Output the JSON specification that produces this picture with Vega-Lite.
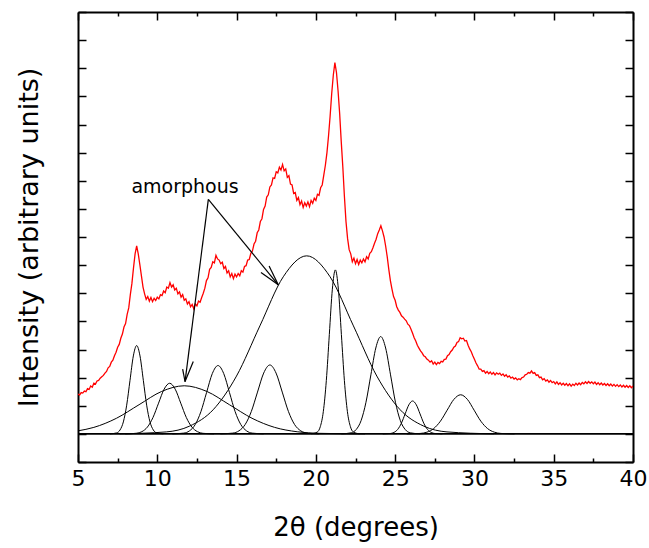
{
  "$schema": "https://vega.github.io/schema/vega-lite/v6.json",
  "width": 555,
  "height": 450,
  "autosize": {"type": "none"},
  "padding": {"left": 78, "top": 12, "right": 16, "bottom": 86},
  "background": "white",
  "config": {
    "view": {"stroke": null},
    "axis": {"grid": false, "domainColor": "black", "domainWidth": 2, "tickColor": "black", "tickWidth": 1.5, "labelColor": "black", "titleColor": "black", "labelFont": "DejaVu Sans", "titleFont": "DejaVu Sans", "titleFontWeight": "normal"}
  },
  "datasets": {
    "xrd": [
      {"x":5.0,"y":1.42},{"x":5.1,"y":1.38},{"x":5.2,"y":1.47},{"x":5.3,"y":1.45},{"x":5.4,"y":1.52},{"x":5.5,"y":1.50},{"x":5.6,"y":1.61},{"x":5.7,"y":1.58},{"x":5.8,"y":1.70},{"x":5.9,"y":1.66},
      {"x":6.0,"y":1.80},{"x":6.1,"y":1.77},{"x":6.2,"y":1.88},{"x":6.3,"y":1.90},{"x":6.4,"y":1.98},{"x":6.5,"y":2.03},{"x":6.6,"y":2.08},{"x":6.7,"y":2.16},{"x":6.8,"y":2.22},{"x":6.9,"y":2.35},
      {"x":7.0,"y":2.40},{"x":7.1,"y":2.55},{"x":7.2,"y":2.62},{"x":7.3,"y":2.78},{"x":7.4,"y":2.90},{"x":7.5,"y":3.08},{"x":7.6,"y":3.18},{"x":7.7,"y":3.40},{"x":7.8,"y":3.55},{"x":7.9,"y":3.80},
      {"x":8.0,"y":3.92},{"x":8.1,"y":4.25},{"x":8.2,"y":4.48},{"x":8.3,"y":4.95},{"x":8.4,"y":5.35},{"x":8.5,"y":5.90},{"x":8.6,"y":6.40},{"x":8.7,"y":6.68},{"x":8.8,"y":6.40},{"x":8.9,"y":6.02},
      {"x":9.0,"y":5.62},{"x":9.1,"y":5.22},{"x":9.2,"y":4.98},{"x":9.3,"y":4.78},{"x":9.4,"y":4.88},{"x":9.5,"y":4.72},{"x":9.6,"y":4.85},{"x":9.7,"y":4.70},{"x":9.8,"y":4.82},{"x":9.9,"y":4.74},
      {"x":10.0,"y":4.86},{"x":10.1,"y":4.80},{"x":10.2,"y":4.95},{"x":10.3,"y":4.92},{"x":10.4,"y":5.08},{"x":10.5,"y":5.02},{"x":10.6,"y":5.22},{"x":10.7,"y":5.18},{"x":10.8,"y":5.38},{"x":10.9,"y":5.22},
      {"x":11.0,"y":5.30},{"x":11.1,"y":5.12},{"x":11.2,"y":5.18},{"x":11.3,"y":4.98},{"x":11.4,"y":5.05},{"x":11.5,"y":4.86},{"x":11.6,"y":4.95},{"x":11.7,"y":4.75},{"x":11.8,"y":4.80},{"x":11.9,"y":4.62},
      {"x":12.0,"y":4.70},{"x":12.1,"y":4.52},{"x":12.2,"y":4.60},{"x":12.3,"y":4.45},{"x":12.4,"y":4.62},{"x":12.5,"y":4.55},{"x":12.6,"y":4.72},{"x":12.7,"y":4.68},{"x":12.8,"y":4.85},{"x":12.9,"y":5.00},
      {"x":13.0,"y":5.18},{"x":13.1,"y":5.45},{"x":13.2,"y":5.55},{"x":13.3,"y":5.85},{"x":13.4,"y":5.92},{"x":13.5,"y":6.12},{"x":13.6,"y":6.08},{"x":13.7,"y":6.35},{"x":13.8,"y":6.22},{"x":13.9,"y":6.18},
      {"x":14.0,"y":6.05},{"x":14.1,"y":6.10},{"x":14.2,"y":5.88},{"x":14.3,"y":5.95},{"x":14.4,"y":5.72},{"x":14.5,"y":5.80},{"x":14.6,"y":5.58},{"x":14.7,"y":5.70},{"x":14.8,"y":5.52},{"x":14.9,"y":5.68},
      {"x":15.0,"y":5.58},{"x":15.1,"y":5.70},{"x":15.2,"y":5.62},{"x":15.3,"y":5.80},{"x":15.4,"y":5.75},{"x":15.5,"y":5.95},{"x":15.6,"y":5.98},{"x":15.7,"y":6.18},{"x":15.8,"y":6.20},{"x":15.9,"y":6.42},
      {"x":16.0,"y":6.50},{"x":16.1,"y":6.75},{"x":16.2,"y":6.85},{"x":16.3,"y":7.15},{"x":16.4,"y":7.25},{"x":16.5,"y":7.55},{"x":16.6,"y":7.65},{"x":16.7,"y":7.98},{"x":16.8,"y":8.10},{"x":16.9,"y":8.42},
      {"x":17.0,"y":8.50},{"x":17.1,"y":8.78},{"x":17.2,"y":8.85},{"x":17.3,"y":9.10},{"x":17.4,"y":9.08},{"x":17.5,"y":9.32},{"x":17.6,"y":9.28},{"x":17.7,"y":9.48},{"x":17.8,"y":9.38},{"x":17.9,"y":9.58},
      {"x":18.0,"y":9.35},{"x":18.1,"y":9.42},{"x":18.2,"y":9.12},{"x":18.3,"y":9.18},{"x":18.4,"y":8.88},{"x":18.5,"y":8.85},{"x":18.6,"y":8.55},{"x":18.7,"y":8.58},{"x":18.8,"y":8.30},{"x":18.9,"y":8.40},
      {"x":19.0,"y":8.15},{"x":19.1,"y":8.28},{"x":19.2,"y":8.05},{"x":19.3,"y":8.22},{"x":19.4,"y":8.10},{"x":19.5,"y":8.25},{"x":19.6,"y":8.08},{"x":19.7,"y":8.30},{"x":19.8,"y":8.20},{"x":19.9,"y":8.38},
      {"x":20.0,"y":8.30},{"x":20.1,"y":8.52},{"x":20.2,"y":8.48},{"x":20.3,"y":8.75},{"x":20.4,"y":8.85},{"x":20.5,"y":9.20},{"x":20.6,"y":9.55},{"x":20.7,"y":10.00},{"x":20.8,"y":10.60},{"x":20.9,"y":11.30},
      {"x":21.0,"y":12.10},{"x":21.1,"y":12.75},{"x":21.2,"y":13.20},{"x":21.3,"y":12.85},{"x":21.4,"y":12.20},{"x":21.5,"y":11.40},{"x":21.6,"y":10.40},{"x":21.7,"y":9.50},{"x":21.8,"y":8.45},{"x":21.9,"y":7.55},
      {"x":22.0,"y":6.95},{"x":22.1,"y":6.55},{"x":22.2,"y":6.40},{"x":22.3,"y":6.12},{"x":22.4,"y":6.25},{"x":22.5,"y":6.05},{"x":22.6,"y":6.20},{"x":22.7,"y":6.02},{"x":22.8,"y":6.18},{"x":22.9,"y":6.08},
      {"x":23.0,"y":6.22},{"x":23.1,"y":6.12},{"x":23.2,"y":6.30},{"x":23.3,"y":6.22},{"x":23.4,"y":6.42},{"x":23.5,"y":6.48},{"x":23.6,"y":6.62},{"x":23.7,"y":6.78},{"x":23.8,"y":6.92},{"x":23.9,"y":7.12},
      {"x":24.0,"y":7.25},{"x":24.1,"y":7.40},{"x":24.2,"y":7.22},{"x":24.3,"y":7.00},{"x":24.4,"y":6.68},{"x":24.5,"y":6.30},{"x":24.6,"y":5.85},{"x":24.7,"y":5.45},{"x":24.8,"y":5.15},{"x":24.9,"y":4.88},
      {"x":25.0,"y":4.75},{"x":25.1,"y":4.52},{"x":25.2,"y":4.40},{"x":25.3,"y":4.32},{"x":25.4,"y":4.20},{"x":25.5,"y":4.15},{"x":25.6,"y":4.08},{"x":25.7,"y":4.02},{"x":25.8,"y":3.90},{"x":25.9,"y":3.85},
      {"x":26.0,"y":3.72},{"x":26.1,"y":3.58},{"x":26.2,"y":3.42},{"x":26.3,"y":3.30},{"x":26.4,"y":3.15},{"x":26.5,"y":3.05},{"x":26.6,"y":2.95},{"x":26.7,"y":2.88},{"x":26.8,"y":2.78},{"x":26.9,"y":2.74},
      {"x":27.0,"y":2.66},{"x":27.1,"y":2.62},{"x":27.2,"y":2.55},{"x":27.3,"y":2.60},{"x":27.4,"y":2.48},{"x":27.5,"y":2.55},{"x":27.6,"y":2.46},{"x":27.7,"y":2.54},{"x":27.8,"y":2.50},{"x":27.9,"y":2.58},
      {"x":28.0,"y":2.56},{"x":28.1,"y":2.65},{"x":28.2,"y":2.66},{"x":28.3,"y":2.78},{"x":28.4,"y":2.82},{"x":28.5,"y":2.92},{"x":28.6,"y":2.98},{"x":28.7,"y":3.08},{"x":28.8,"y":3.12},{"x":28.9,"y":3.25},
      {"x":29.0,"y":3.28},{"x":29.1,"y":3.42},{"x":29.2,"y":3.38},{"x":29.3,"y":3.40},{"x":29.4,"y":3.30},{"x":29.5,"y":3.32},{"x":29.6,"y":3.15},{"x":29.7,"y":3.02},{"x":29.8,"y":2.92},{"x":29.9,"y":2.78},
      {"x":30.0,"y":2.65},{"x":30.1,"y":2.52},{"x":30.2,"y":2.42},{"x":30.3,"y":2.30},{"x":30.4,"y":2.30},{"x":30.5,"y":2.22},{"x":30.6,"y":2.25},{"x":30.7,"y":2.16},{"x":30.8,"y":2.22},{"x":30.9,"y":2.14},
      {"x":31.0,"y":2.20},{"x":31.1,"y":2.12},{"x":31.2,"y":2.18},{"x":31.3,"y":2.10},{"x":31.4,"y":2.17},{"x":31.5,"y":2.12},{"x":31.6,"y":2.16},{"x":31.7,"y":2.08},{"x":31.8,"y":2.13},{"x":31.9,"y":2.05},
      {"x":32.0,"y":2.10},{"x":32.1,"y":2.02},{"x":32.2,"y":2.06},{"x":32.3,"y":1.98},{"x":32.4,"y":2.02},{"x":32.5,"y":1.95},{"x":32.6,"y":1.99},{"x":32.7,"y":1.92},{"x":32.8,"y":1.96},{"x":32.9,"y":1.93},
      {"x":33.0,"y":2.00},{"x":33.1,"y":2.02},{"x":33.2,"y":2.10},{"x":33.3,"y":2.12},{"x":33.4,"y":2.18},{"x":33.5,"y":2.16},{"x":33.6,"y":2.24},{"x":33.7,"y":2.15},{"x":33.8,"y":2.18},{"x":33.9,"y":2.08},
      {"x":34.0,"y":2.10},{"x":34.1,"y":2.00},{"x":34.2,"y":2.02},{"x":34.3,"y":1.92},{"x":34.4,"y":1.96},{"x":34.5,"y":1.88},{"x":34.6,"y":1.92},{"x":34.7,"y":1.84},{"x":34.8,"y":1.90},{"x":34.9,"y":1.82},
      {"x":35.0,"y":1.86},{"x":35.1,"y":1.78},{"x":35.2,"y":1.85},{"x":35.3,"y":1.76},{"x":35.4,"y":1.82},{"x":35.5,"y":1.74},{"x":35.6,"y":1.80},{"x":35.7,"y":1.73},{"x":35.8,"y":1.79},{"x":35.9,"y":1.71},
      {"x":36.0,"y":1.78},{"x":36.1,"y":1.70},{"x":36.2,"y":1.77},{"x":36.3,"y":1.72},{"x":36.4,"y":1.80},{"x":36.5,"y":1.74},{"x":36.6,"y":1.81},{"x":36.7,"y":1.75},{"x":36.8,"y":1.83},{"x":36.9,"y":1.78},
      {"x":37.0,"y":1.85},{"x":37.1,"y":1.79},{"x":37.2,"y":1.86},{"x":37.3,"y":1.80},{"x":37.4,"y":1.85},{"x":37.5,"y":1.78},{"x":37.6,"y":1.84},{"x":37.7,"y":1.76},{"x":37.8,"y":1.82},{"x":37.9,"y":1.75},
      {"x":38.0,"y":1.81},{"x":38.1,"y":1.74},{"x":38.2,"y":1.79},{"x":38.3,"y":1.72},{"x":38.4,"y":1.78},{"x":38.5,"y":1.71},{"x":38.6,"y":1.77},{"x":38.7,"y":1.70},{"x":38.8,"y":1.76},{"x":38.9,"y":1.69},
      {"x":39.0,"y":1.75},{"x":39.1,"y":1.68},{"x":39.2,"y":1.74},{"x":39.3,"y":1.67},{"x":39.4,"y":1.73},{"x":39.5,"y":1.66},{"x":39.6,"y":1.72},{"x":39.7,"y":1.65},{"x":39.8,"y":1.71},{"x":39.9,"y":1.64},
      {"x":40.0,"y":1.70}
    ],
    "peaks": [
      {"c":"A","x":7.02,"y":0.001},{"c":"A","x":7.44,"y":0.035},{"c":"A","x":7.65,"y":0.138},{"c":"A","x":7.86,"y":0.425},{"c":"A","x":8.07,"y":1.020},{"c":"A","x":8.28,"y":1.904},{"c":"A","x":8.49,"y":2.771},{"c":"A","x":8.70,"y":3.14},{"c":"A","x":8.91,"y":2.771},{"c":"A","x":9.12,"y":1.904},{"c":"A","x":9.33,"y":1.020},{"c":"A","x":9.54,"y":0.425},{"c":"A","x":9.75,"y":0.138},{"c":"A","x":9.96,"y":0.035},{"c":"A","x":10.38,"y":0.001},
      {"c":"B","x":7.98,"y":0.001},{"c":"B","x":8.68,"y":0.020},{"c":"B","x":9.03,"y":0.079},{"c":"B","x":9.38,"y":0.244},{"c":"B","x":9.73,"y":0.584},{"c":"B","x":10.08,"y":1.092},{"c":"B","x":10.43,"y":1.589},{"c":"B","x":10.78,"y":1.80},{"c":"B","x":11.13,"y":1.589},{"c":"B","x":11.48,"y":1.092},{"c":"B","x":11.83,"y":0.584},{"c":"B","x":12.18,"y":0.244},{"c":"B","x":12.53,"y":0.079},{"c":"B","x":12.88,"y":0.020},{"c":"B","x":13.58,"y":0.001},
      {"c":"C","x":10.95,"y":0.001},{"c":"C","x":11.67,"y":0.027},{"c":"C","x":12.03,"y":0.107},{"c":"C","x":12.39,"y":0.329},{"c":"C","x":12.75,"y":0.789},{"c":"C","x":13.11,"y":1.474},{"c":"C","x":13.47,"y":2.144},{"c":"C","x":13.83,"y":2.43},{"c":"C","x":14.19,"y":2.144},{"c":"C","x":14.55,"y":1.474},{"c":"C","x":14.91,"y":0.789},{"c":"C","x":15.27,"y":0.329},{"c":"C","x":15.63,"y":0.107},{"c":"C","x":15.99,"y":0.027},{"c":"C","x":16.71,"y":0.001},
      {"c":"D","x":13.98,"y":0.001},{"c":"D","x":14.76,"y":0.027},{"c":"D","x":15.15,"y":0.108},{"c":"D","x":15.54,"y":0.331},{"c":"D","x":15.93,"y":0.796},{"c":"D","x":16.32,"y":1.486},{"c":"D","x":16.71,"y":2.162},{"c":"D","x":17.10,"y":2.45},{"c":"D","x":17.49,"y":2.162},{"c":"D","x":17.88,"y":1.486},{"c":"D","x":18.27,"y":0.796},{"c":"D","x":18.66,"y":0.331},{"c":"D","x":19.05,"y":0.108},{"c":"D","x":19.44,"y":0.027},{"c":"D","x":20.22,"y":0.001},
      {"c":"E","x":7.62,"y":0.002},{"c":"E","x":10.57,"y":0.070},{"c":"E","x":12.045,"y":0.278},{"c":"E","x":13.52,"y":0.856},{"c":"E","x":14.995,"y":2.055},{"c":"E","x":16.47,"y":3.839},{"c":"E","x":17.945,"y":5.586},{"c":"E","x":19.42,"y":6.33},{"c":"E","x":20.895,"y":5.586},{"c":"E","x":22.37,"y":3.839},{"c":"E","x":23.845,"y":2.055},{"c":"E","x":25.32,"y":0.856},{"c":"E","x":26.795,"y":0.278},{"c":"E","x":28.27,"y":0.070},{"c":"E","x":31.22,"y":0.002},
      {"c":"F","x":19.71,"y":0.002},{"c":"F","x":20.09,"y":0.065},{"c":"F","x":20.28,"y":0.256},{"c":"F","x":20.47,"y":0.789},{"c":"F","x":20.66,"y":1.893},{"c":"F","x":20.85,"y":3.536},{"c":"F","x":21.04,"y":5.145},{"c":"F","x":21.23,"y":5.83},{"c":"F","x":21.42,"y":5.145},{"c":"F","x":21.61,"y":3.536},{"c":"F","x":21.80,"y":1.893},{"c":"F","x":21.99,"y":0.789},{"c":"F","x":22.18,"y":0.256},{"c":"F","x":22.37,"y":0.065},{"c":"F","x":22.75,"y":0.002},
      {"c":"G","x":21.61,"y":0.001},{"c":"G","x":22.23,"y":0.038},{"c":"G","x":22.54,"y":0.152},{"c":"G","x":22.85,"y":0.468},{"c":"G","x":23.16,"y":1.123},{"c":"G","x":23.47,"y":2.098},{"c":"G","x":23.78,"y":3.053},{"c":"G","x":24.09,"y":3.46},{"c":"G","x":24.40,"y":3.053},{"c":"G","x":24.71,"y":2.098},{"c":"G","x":25.02,"y":1.123},{"c":"G","x":25.33,"y":0.468},{"c":"G","x":25.64,"y":0.152},{"c":"G","x":25.95,"y":0.038},{"c":"G","x":26.57,"y":0.001},
      {"c":"H","x":24.22,"y":0.0},{"c":"H","x":24.69,"y":0.013},{"c":"H","x":24.925,"y":0.051},{"c":"H","x":25.16,"y":0.158},{"c":"H","x":25.395,"y":0.380},{"c":"H","x":25.63,"y":0.710},{"c":"H","x":25.865,"y":1.033},{"c":"H","x":26.10,"y":1.17},{"c":"H","x":26.335,"y":1.033},{"c":"H","x":26.57,"y":0.710},{"c":"H","x":26.805,"y":0.380},{"c":"H","x":27.04,"y":0.158},{"c":"H","x":27.275,"y":0.051},{"c":"H","x":27.51,"y":0.013},{"c":"H","x":27.98,"y":0.0},
      {"c":"I","x":25.73,"y":0.0},{"c":"I","x":26.58,"y":0.015},{"c":"I","x":27.005,"y":0.061},{"c":"I","x":27.43,"y":0.188},{"c":"I","x":27.855,"y":0.451},{"c":"I","x":28.28,"y":0.843},{"c":"I","x":28.705,"y":1.227},{"c":"I","x":29.13,"y":1.39},{"c":"I","x":29.555,"y":1.227},{"c":"I","x":29.98,"y":0.843},{"c":"I","x":30.405,"y":0.451},{"c":"I","x":30.83,"y":0.188},{"c":"I","x":31.255,"y":0.061},{"c":"I","x":31.68,"y":0.015},{"c":"I","x":32.53,"y":0.0},
      {"c":"J","x":5.0,"y":0.108},{"c":"J","x":6.0,"y":0.231},{"c":"J","x":7.425,"y":0.555},{"c":"J","x":8.85,"y":1.037},{"c":"J","x":10.275,"y":1.509},{"c":"J","x":11.70,"y":1.71},{"c":"J","x":13.125,"y":1.509},{"c":"J","x":14.55,"y":1.037},{"c":"J","x":15.975,"y":0.555},{"c":"J","x":17.40,"y":0.231},{"c":"J","x":18.825,"y":0.075},{"c":"J","x":20.25,"y":0.019},{"c":"J","x":23.10,"y":0.001}
    ],
    "baseline": [{"x":5,"x2":40,"y":0}],
    "arrows": [
      {"x":13.22,"y":8.34,"x2":11.75,"y2":1.86},
      {"x":13.22,"y":8.34,"x2":17.63,"y2":5.30},
      {"x":11.60,"y":2.30,"x2":11.75,"y2":1.86},
      {"x":12.27,"y":2.57,"x2":11.75,"y2":1.86},
      {"x":17.05,"y":5.97,"x2":17.63,"y2":5.30},
      {"x":16.54,"y":5.74,"x2":17.63,"y2":5.30}
    ],
    "labels": [{"x":11.75,"y":8.56,"text":"amorphous"}]
  },
  "resolve": {"axis": {"x": "independent", "y": "independent"}},
  "layer": [
    {
      "data": {"name": "xrd"},
      "mark": {"type": "line", "color": "#ff0000", "strokeWidth": 1.3, "clip": true},
      "encoding": {
        "x": {"field": "x", "type": "quantitative", "scale": {"domain": [5, 40], "nice": false, "zero": false},
          "axis": {"orient": "bottom", "values": [5,10,15,20,25,30,35,40], "tickSize": -8, "labelFontSize": 22, "labelPadding": 31, "labelBaseline": "alphabetic", "labelFlush": false, "labelOverlap": false,
            "title": "2θ (degrees)", "titleFontSize": 26, "titleX": 277.5, "titleY": 73, "titleBaseline": "alphabetic", "titleAlign": "center", "titleAnchor": null}},
        "y": {"field": "y", "type": "quantitative", "scale": {"domain": [-1, 15], "nice": false, "zero": false},
          "axis": {"orient": "left", "values": [-1,0,1,2,3,4,5,6,7,8,9,10,11,12,13,14,15], "tickSize": -8, "labels": false,
            "title": "Intensity (arbitrary units)", "titleFontSize": 27, "titleX": -41, "titleY": 225, "titleAngle": -90, "titleBaseline": "alphabetic", "titleAlign": "center", "titleAnchor": null}}
      }
    },
    {
      "data": {"name": "peaks"},
      "mark": {"type": "line", "color": "black", "strokeWidth": 1, "interpolate": "monotone", "clip": true},
      "encoding": {
        "detail": {"field": "c"},
        "x": {"field": "x", "type": "quantitative", "scale": {"domain": [5, 40], "nice": false, "zero": false},
          "axis": {"orient": "top", "values": [5,10,15,20,25,30,35,40], "tickSize": -8, "labels": false, "title": null}},
        "y": {"field": "y", "type": "quantitative", "scale": {"domain": [-1, 15], "nice": false, "zero": false},
          "axis": {"orient": "right", "values": [-1,0,1,2,3,4,5,6,7,8,9,10,11,12,13,14,15], "tickSize": -8, "labels": false, "title": null}}
      }
    },
    {
      "data": {"name": "baseline"},
      "mark": {"type": "rule", "color": "black", "strokeWidth": 1.6},
      "encoding": {
        "x": {"field": "x", "type": "quantitative", "scale": {"domain": [5, 40], "nice": false, "zero": false},
          "axis": {"orient": "bottom", "values": [7.5,12.5,17.5,22.5,27.5,32.5,37.5], "tickSize": -4, "labels": false, "domain": false, "title": null}},
        "x2": {"field": "x2"},
        "y": {"field": "y", "type": "quantitative", "scale": {"domain": [-1, 15], "nice": false, "zero": false}, "axis": null}
      }
    },
    {
      "data": {"name": "arrows"},
      "mark": {"type": "rule", "color": "black", "strokeWidth": 1.2},
      "encoding": {
        "x": {"field": "x", "type": "quantitative", "scale": {"domain": [5, 40], "nice": false, "zero": false},
          "axis": {"orient": "top", "values": [7.5,12.5,17.5,22.5,27.5,32.5,37.5], "tickSize": -4, "labels": false, "domain": false, "title": null}},
        "x2": {"field": "x2"},
        "y": {"field": "y", "type": "quantitative", "scale": {"domain": [-1, 15], "nice": false, "zero": false}, "axis": null},
        "y2": {"field": "y2"}
      }
    },
    {
      "data": {"name": "labels"},
      "mark": {"type": "text", "font": "DejaVu Sans", "fontSize": 19, "color": "black", "align": "center", "baseline": "alphabetic"},
      "encoding": {
        "x": {"field": "x", "type": "quantitative", "scale": {"domain": [5, 40], "nice": false, "zero": false}, "axis": null},
        "y": {"field": "y", "type": "quantitative", "scale": {"domain": [-1, 15], "nice": false, "zero": false}, "axis": null},
        "text": {"field": "text"}
      }
    }
  ]
}
